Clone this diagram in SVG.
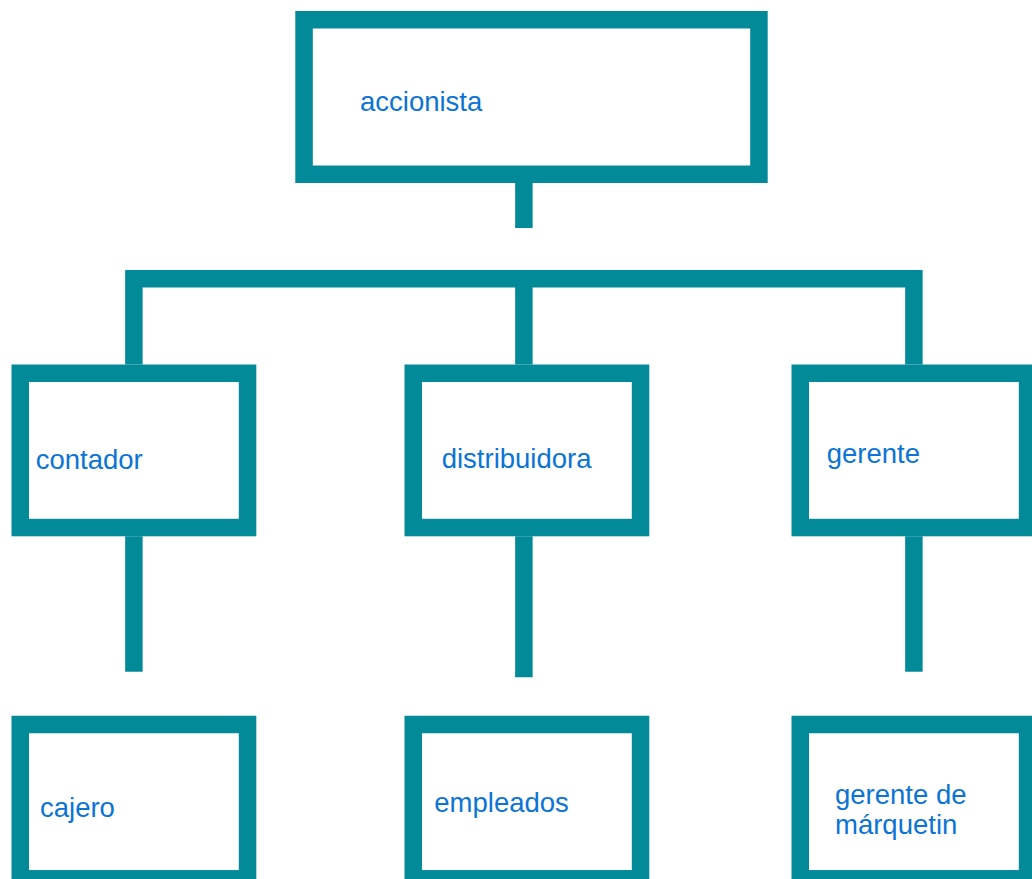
<svg xmlns="http://www.w3.org/2000/svg" width="1032" height="879" viewBox="0 0 1032 879">
<style>
.box{fill:#ffffff;stroke:#028A99;stroke-width:17.5}
.con{fill:none;stroke:#028A99;stroke-width:17.5;stroke-linecap:butt;stroke-linejoin:miter}
.lbl{font-family:"Liberation Sans",Arial,sans-serif;font-size:27.5px;fill:#0B74D6}
</style>
<rect width="1032" height="879" fill="#ffffff"/>
<g id="connectors">
<path class="con" d="M523.9,183 V228"/>
<path class="con" d="M133.9,364.5 V278.75 H913.9 V364.5"/>
<path class="con" d="M523.9,278.75 V364.5"/>
<path class="con" d="M133.9,536.3 V671.7"/>
<path class="con" d="M523.9,536.3 V677.3"/>
<path class="con" d="M913.9,536.3 V671.7"/>
</g>
<g id="accionista">
<rect class="box" x="304.05" y="19.75" width="454.9" height="154.5"/>
<text class="lbl" x="360" y="111">accionista</text>
</g>
<g id="contador">
<rect class="box" x="20.25" y="373.25" width="227.3" height="154.3"/>
<text class="lbl" x="35.7" y="469.3">contador</text>
</g>
<g id="distribuidora">
<rect class="box" x="413.25" y="373.25" width="227.3" height="154.3"/>
<text class="lbl" x="441.7" y="468.3">distribuidora</text>
</g>
<g id="gerente">
<rect class="box" x="800.25" y="373.25" width="227.3" height="154.3"/>
<text class="lbl" x="826.7" y="463.3">gerente</text>
</g>
<g id="cajero">
<rect class="box" x="20.25" y="724.5" width="227.3" height="154.3"/>
<text class="lbl" x="40" y="816.7">cajero</text>
</g>
<g id="empleados">
<rect class="box" x="413.25" y="724.5" width="227.3" height="154.3"/>
<text class="lbl" x="434.3" y="811.7">empleados</text>
</g>
<g id="gerente-marquetin">
<rect class="box" x="800.25" y="724.5" width="227.3" height="154.3"/>
<text class="lbl" x="835" y="804">gerente de</text>
<text class="lbl" x="835" y="834.3">márquetin</text>
</g>
</svg>
